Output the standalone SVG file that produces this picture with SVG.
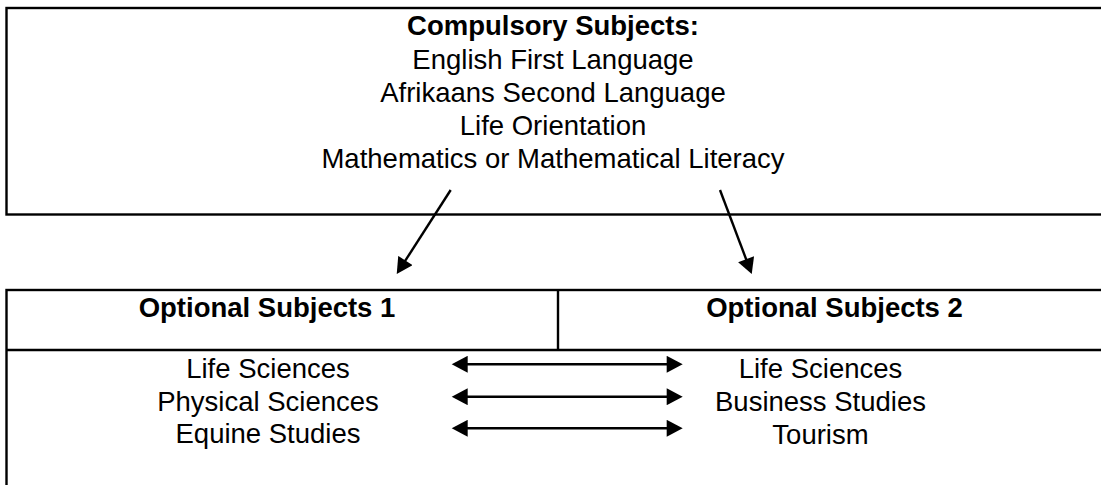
<svg xmlns="http://www.w3.org/2000/svg" width="1101" height="485" viewBox="0 0 1101 485">
<style>
.box{fill:none;stroke:#000;stroke-width:2.4}
.t{font-family:"Liberation Sans",Arial,sans-serif;font-size:27.5px;fill:#000;text-anchor:middle}
.b{font-weight:bold}
.c{stroke:#000;stroke-width:2.4;fill:none}
</style>
<defs>
<marker id="ah" markerUnits="userSpaceOnUse" markerWidth="17" markerHeight="17" viewBox="0 0 16 17" refX="2" refY="8.5" orient="auto-start-reverse">
<path d="M0,0 L16,8.5 L0,17 z" fill="#000"/>
</marker>
</defs>
<rect width="1101" height="485" fill="#fff"/>
<g id="compulsory">
<rect class="box" x="6.5" y="8" width="1110" height="206.5"/>
<text class="t b" x="553" y="35">Compulsory Subjects:</text>
<text class="t" x="553" y="68.5">English First Language</text>
<text class="t" x="553" y="101.7">Afrikaans Second Language</text>
<text class="t" x="553" y="135">Life Orientation</text>
<text class="t" x="553" y="168">Mathematics or Mathematical Literacy</text>
</g>
<g id="optional">
<rect class="box" x="6.5" y="290" width="1110" height="220"/>
<line class="box" x1="6.5" y1="350" x2="1110" y2="350"/>
<line class="box" x1="558" y1="290" x2="558" y2="350"/>
</g>
<g id="optional1">
<text class="t b" x="267" y="317">Optional Subjects 1</text>
<text class="t" x="268" y="378">Life Sciences</text>
<text class="t" x="268" y="410.5">Physical Sciences</text>
<text class="t" x="268" y="443">Equine Studies</text>
</g>
<g id="optional2">
<text class="t b" x="834.5" y="317">Optional Subjects 2</text>
<text class="t" x="820.5" y="378">Life Sciences</text>
<text class="t" x="820.5" y="411">Business Studies</text>
<text class="t" x="820.5" y="444">Tourism</text>
</g>
<g id="connectors">
<line class="c" x1="450.7" y1="190" x2="404.3" y2="262.2" marker-end="url(#ah)"/>
<line class="c" x1="720" y1="190" x2="746.8" y2="261" marker-end="url(#ah)"/>
<line class="c" x1="465.7" y1="364.3" x2="668.7" y2="364.3" marker-start="url(#ah)" marker-end="url(#ah)"/>
<line class="c" x1="465.7" y1="396.7" x2="668.7" y2="396.7" marker-start="url(#ah)" marker-end="url(#ah)"/>
<line class="c" x1="465.7" y1="428.3" x2="668.7" y2="428.3" marker-start="url(#ah)" marker-end="url(#ah)"/>
</g>
</svg>
